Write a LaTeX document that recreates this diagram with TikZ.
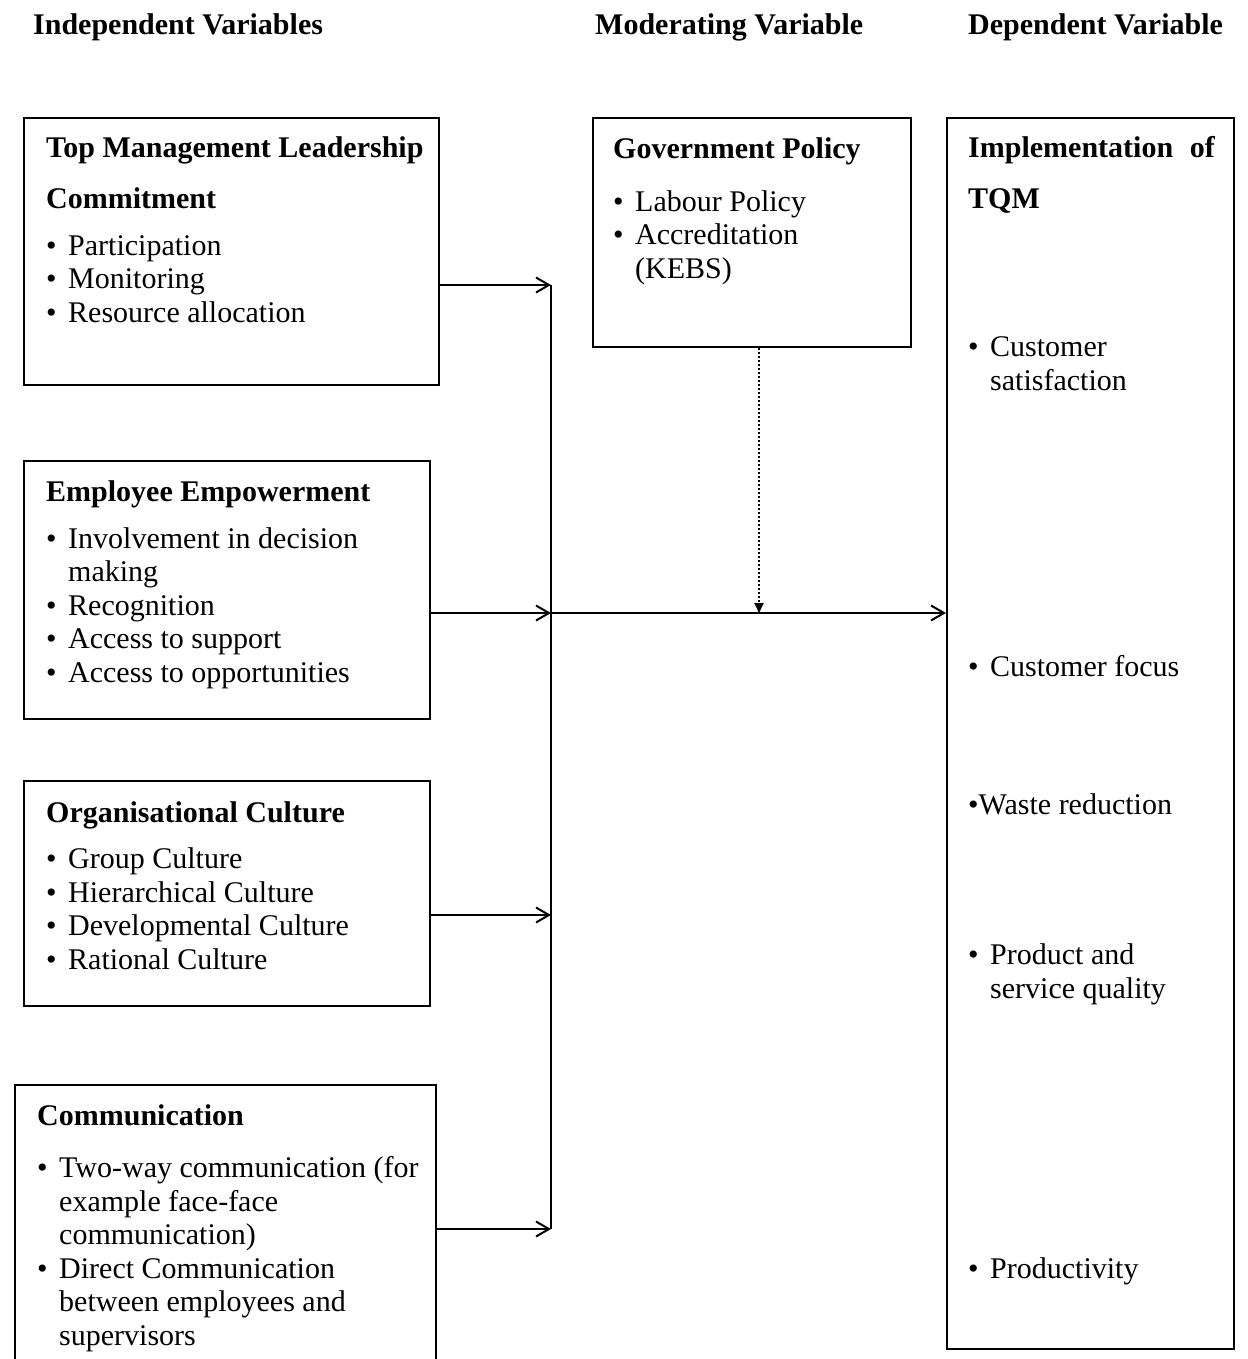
\documentclass[tikz,border=0pt]{standalone}
\usepackage{fontspec}
\setmainfont{Liberation Serif}
\usetikzlibrary{arrows.meta,positioning}
\newcommand{\varfont}{\fontsize{30}{33.5}\selectfont}
\newcommand{\bul}{\makebox[22pt][l]{\textbullet}}
\newcommand{\cont}{\hspace*{22pt}}
\tikzset{
  varbox/.style = {rectangle, draw, line width=2pt, anchor=north west, inner sep=0pt},
  boxtext/.style = {anchor=base west, align=left, inner sep=0pt, font=\varfont},
  heading/.style = {anchor=base west, inner sep=0pt, font=\varfont\bfseries},
  arrow/.style = {line width=2pt, -{Straight Barb[length=13pt,width=15pt,line width=2pt]}},
  modarrow/.style = {line width=2pt, dotted, -{Triangle[length=10pt,width=9pt]}}
}

\begin{document}
\begin{tikzpicture}[x=1pt, y=-1pt]

\clip (0,0) rectangle (1247,1359);

% column headings
\node[heading] (indep) at (33,35) {Independent Variables};
\node[heading] (moder) at (595,35) {Moderating Variable};
\node[heading] (depend) at (968,35) {Dependent Variable};

% independent variables (text nodes placed at their last baseline)
\node[varbox, minimum width=415pt, minimum height=267pt] (topmgmt) at (23,117) {};
\node[boxtext] (topmgmttext) at (46,322)
  {\textbf{Top Management Leadership}\\[17pt]
   \textbf{Commitment}\\[13.5pt]
   \bul Participation\\
   \bul Monitoring\\
   \bul Resource allocation};

\node[varbox, minimum width=406pt, minimum height=258pt] (empower) at (23,460) {};
\node[boxtext] (empowertext) at (46,682)
  {\textbf{Employee Empowerment}\\[13.5pt]
   \bul Involvement in decision\\
   \cont making\\
   \bul Recognition\\
   \bul Access to support\\
   \bul Access to opportunities};

\node[varbox, minimum width=406pt, minimum height=225pt] (culture) at (23,780) {};
\node[boxtext] (culturetext) at (46,969)
  {\textbf{Organisational Culture}\\[13pt]
   \bul Group Culture\\
   \bul Hierarchical Culture\\
   \bul Developmental Culture\\
   \bul Rational Culture};

\node[varbox, minimum width=421pt, minimum height=300pt] (comm) at (14,1084) {};
\node[boxtext] (commtext) at (37,1345)
  {\textbf{Communication}\\[19pt]
   \bul Two-way communication (for\\
   \cont example face-face\\
   \cont communication)\\
   \bul Direct Communication\\
   \cont between employees and\\
   \cont supervisors};

% moderating variable
\node[varbox, minimum width=318pt, minimum height=229pt] (gov) at (592,117) {};
\node[boxtext] (govtext) at (613,278)
  {\textbf{Government Policy}\\[19pt]
   \bul Labour Policy\\
   \bul Accreditation\\
   \cont (KEBS)};

% dependent variable
\node[varbox, minimum width=287pt, minimum height=1231pt] (dep) at (946,117) {};
\node[boxtext] (deptitle) at (968,208)
  {\makebox[247pt][s]{\textbf{Implementation of}}\\[17pt]
   \textbf{TQM}};
\node[boxtext] (satisf) at (968,390) {\bul Customer\\ \cont satisfaction};
\node[boxtext] (focus) at (968,676) {\bul Customer focus};
\node[boxtext] (waste) at (968,814) {\textbullet Waste reduction};
\node[boxtext] (quality) at (968,998) {\bul Product and\\ \cont service quality};
\node[boxtext] (product) at (968,1278) {\bul Productivity};

% connectors
\coordinate (j1) at (551,285);
\coordinate (j2) at (551,613);
\coordinate (j3) at (551,915);
\coordinate (j4) at (551,1229);

\draw[arrow] (topmgmt.east |- j1) -- (j1);
\draw[arrow] (empower.east |- j2) -- (j2);
\draw[arrow] (culture.east |- j3) -- (j3);
\draw[arrow] (comm.east |- j4) -- (j4);
\draw[line width=2pt] (j1) -- (j4);
\draw[arrow] (j2) -- (dep.west |- j2);
\draw[modarrow] ([xshift=7pt]gov.south) -- ([xshift=7pt]gov.south |- j2);

\end{tikzpicture}
\end{document}
